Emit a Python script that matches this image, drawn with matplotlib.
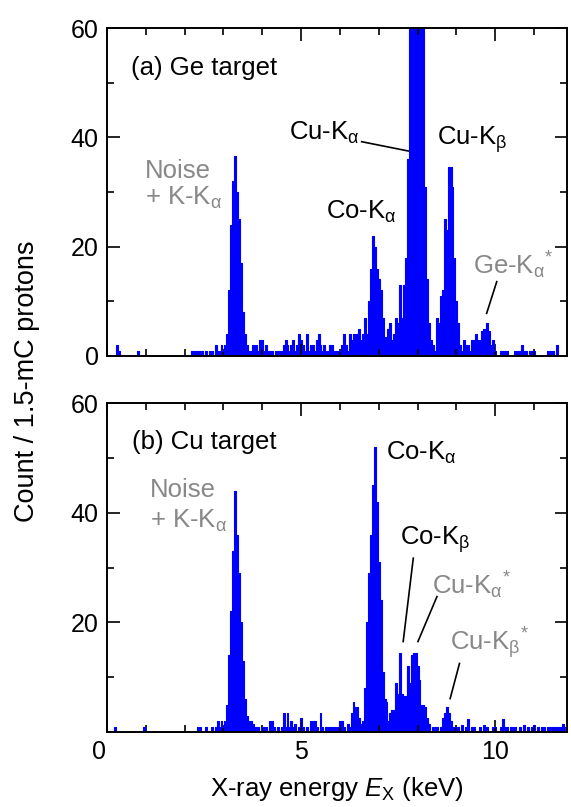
import matplotlib.pyplot as plt
import matplotlib.transforms as mtransforms
import numpy as np
from matplotlib.ticker import MultipleLocator

plt.rcParams['font.family'] = ['Liberation Sans', 'DejaVu Sans']
plt.rcParams['mathtext.fontset'] = 'custom'
plt.rcParams['mathtext.rm'] = 'Liberation Sans'
plt.rcParams['mathtext.it'] = 'Liberation Sans:italic'

# energy bins (keV), 0.05 keV steps from 0 to 11.8
energy = np.round(np.arange(0, 11.81, 0.05), 2)

# (a) Ge target, counts per bin (Cu-Ka peak goes off scale)
counts_ge = [
    0, 0, 0, 0, 0, 2, 1, 0, 0, 0, 0, 0, 0, 0, 0, 0, 1, 0, 0, 0,
    0, 0, 0, 0, 0, 0, 0, 0, 0, 0, 0, 0, 0, 0, 0, 0, 0, 0, 0, 0,
    0, 0, 0, 0, 1, 1, 1, 1, 1, 1, 0, 1, 0, 1, 1, 0, 2, 1, 1, 2,
    1, 2, 4, 12, 24, 32, 36.5, 30, 25, 17, 8, 4, 2, 1, 1, 2, 1, 2, 1, 3,
    3, 1, 2, 1, 1, 1, 0, 1, 1, 1, 1, 2, 3, 2, 1, 2, 3, 1, 2, 4,
    3, 2, 1, 4, 1, 2, 2, 1, 3, 4, 2, 1, 2, 1, 1, 2, 2, 1, 1, 1,
    1, 2, 4, 2, 1, 4, 3, 4, 4, 4, 5, 3, 4, 7, 4, 10, 16, 22, 20, 16,
    14, 12, 7, 3.5, 2, 5, 6, 3, 4, 7, 6, 13, 7, 13, 18, 36, 75, 110, 130, 140,
    135, 120, 95, 65, 31, 14, 6, 3, 2, 1, 7, 6, 11, 12, 25, 23, 34.5, 34.5, 31, 18,
    10, 6, 2, 1, 3, 2, 2, 1, 3, 3, 4, 3, 3, 4.5, 5, 4, 6, 4.5, 2, 3,
    1, 0, 0, 1, 1, 1, 1, 0, 0, 0, 1, 1, 1, 1, 2, 1, 1, 0, 1, 1,
    1, 0, 0, 0, 0, 0, 0, 1, 1, 0, 1, 0, 2, 0, 0, 0, 0,
]

# (b) Cu target, counts per bin
counts_cu = [
    0, 0, 0, 0, 1, 0, 0, 0, 0, 0, 0, 0, 0, 0, 0, 0, 0, 0, 0, 1,
    0, 0, 0, 0, 0, 0, 0, 0, 0, 0, 0, 0, 0, 0, 0, 0, 0, 0, 0, 0,
    0, 0, 0, 0, 0, 0, 0, 1, 1, 0, 0, 1, 0, 0, 1, 0, 1, 2, 1, 2,
    1, 2, 5, 14, 22, 33, 44, 36, 29, 20, 13, 6, 3, 2, 2, 1.5, 1, 1, 1, 0,
    1, 1, 1, 0, 2, 2, 1, 0, 1, 0, 1, 3.5, 1, 3.5, 1, 2, 1, 1.5, 0, 1,
    2.5, 1, 0, 1, 0, 2, 2, 2, 1, 0, 3.5, 1, 0, 1, 1, 1, 1, 1, 1, 1,
    2, 2, 1, 0, 1.5, 1, 3.5, 5.5, 4.5, 4.5, 2.5, 1.5, 2, 8, 20, 29, 36, 45, 52, 42,
    31, 24, 11, 6, 5.5, 2, 3.5, 4, 4, 9, 7, 14.5, 7, 6.5, 6.5, 12, 9, 14, 14.5, 14.5,
    12, 9.5, 5, 5, 4.5, 2.5, 1.5, 0, 1, 1, 1, 0, 1, 2.5, 3.5, 4.5, 3.5, 2, 1, 1,
    1, 1, 0, 1.3, 0, 1, 2.3, 0, 1, 1, 0, 0, 1, 0, 1.3, 0, 1, 0, 0, 1,
    1, 0, 0, 1, 2.3, 1, 1, 0, 1, 1, 1, 0, 0, 1, 0, 1.3, 0, 1, 0, 1,
    1.3, 0, 1, 0, 1, 1, 0, 1, 1, 0, 1, 1, 1, 1, 1, 1.5, 1,
]

gray = '#888888'
fs = 18.5

fig = plt.figure(figsize=(5.71, 8.07), dpi=100)
ax1 = fig.add_axes([0.1874, 0.5589, 0.8056, 0.4064])
ax2 = fig.add_axes([0.1874, 0.0929, 0.8056, 0.4077])

for ax, c in [(ax1, counts_ge), (ax2, counts_cu)]:
    ax.fill_between(energy, c, 0, step='mid', facecolor='#0000ff',
                    edgecolor='#0000ff', lw=0.6, antialiased=False)
    ax.step(energy, c, where='mid', color='#0000ff', lw=0.8)
    ax.set_xlim(0, 11.85)
    ax.set_ylim(0, 60)
    ax.xaxis.set_minor_locator(MultipleLocator(1))
    ax.yaxis.set_minor_locator(MultipleLocator(10))
    ax.tick_params(which='both', direction='in', top=True, right=True,
                   width=1.2, labelsize=18, pad=6)
    ax.tick_params(which='major', length=9)
    ax.tick_params(which='minor', length=5)
    for s in ax.spines.values():
        s.set_linewidth(1.4)

ax1.set_xticks([0, 5, 10])
ax2.set_xticks([0, 5, 10])
ax1.set_yticks([0, 20, 40, 60])
ax2.set_yticks([20, 40, 60])
ax1.tick_params(labelbottom=False)

# the "0" on the energy axis sits a little left of the axis line
lbl0 = ax2.get_xticklabels()[0]
lbl0.set_transform(lbl0.get_transform() +
                   mtransforms.ScaledTranslation(-8 / 100, 0, fig.dpi_scale_trans))

# panel (a)
ax1.text(0.62, 52.7, '(a) Ge target', fontsize=fs, va='center')
ax1.text(0.98, 33.8, 'Noise', fontsize=fs, va='center', color=gray)
ax1.text(0.98, 29.0, r'+ K-K$_{\mathrm{\alpha}}$', fontsize=fs, va='center', color=gray)
ax1.text(4.7, 40.8, r'Cu-K$_{\mathrm{\alpha}}$', fontsize=fs, va='center')
ax1.plot([6.56, 7.76], [39.2, 37.5], color='k', lw=1.2)
ax1.text(8.5, 39.5, r'Cu-K$_{\mathrm{\beta}}$', fontsize=fs, va='center')
ax1.text(5.65, 26.4, r'Co-K$_{\mathrm{\alpha}}$', fontsize=fs, va='center')
ax1.text(9.43, 16.6, r'Ge-K$_{\mathrm{\alpha}}{}^{*}$', fontsize=fs, va='center', color=gray)
ax1.plot([10.04, 9.78], [13.6, 7.8], color='k', lw=1.2)

# panel (b)
ax2.text(0.64, 52.9, '(b) Cu target', fontsize=fs, va='center')
ax2.text(1.11, 44.2, 'Noise', fontsize=fs, va='center', color=gray)
ax2.text(1.11, 38.5, r'+ K-K$_{\mathrm{\alpha}}$', fontsize=fs, va='center', color=gray)
ax2.text(7.2, 50.9, r'Co-K$_{\mathrm{\alpha}}$', fontsize=fs, va='center')
ax2.text(7.55, 35.0, r'Co-K$_{\mathrm{\beta}}$', fontsize=fs, va='center')
ax2.plot([7.89, 7.63], [31.7, 16.5], color='k', lw=1.2)
ax2.text(8.37, 26.8, r'Cu-K$_{\mathrm{\alpha}}{}^{*}$', fontsize=fs, va='center', color=gray)
ax2.plot([8.5, 8.01], [24.7, 16.5], color='k', lw=1.2)
ax2.text(8.84, 16.2, r'Cu-K$_{\mathrm{\beta}}{}^{*}$', fontsize=fs, va='center', color=gray)
ax2.plot([9.08, 8.84], [12.5, 6.1], color='k', lw=1.2)

ax2.set_xlabel(r'X-ray energy $\mathit{E}_{\mathrm{X}}$ (keV)', fontsize=fs, labelpad=8)
fig.text(0.047, 0.527, 'Count / 1.5-mC protons', rotation=90, fontsize=19.5,
         ha='center', va='center')

plt.savefig('out.png', dpi=100)
